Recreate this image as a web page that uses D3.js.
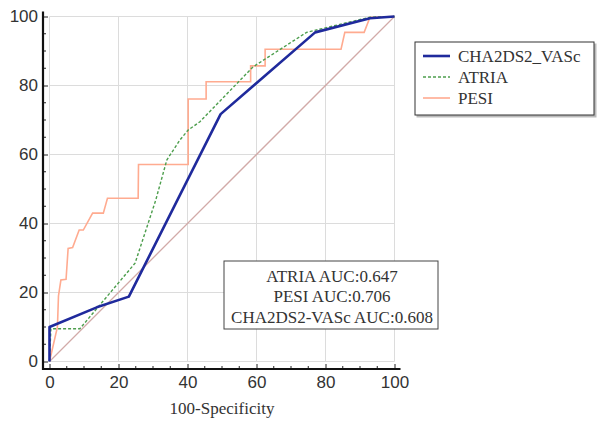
<!DOCTYPE html>
<html>
<head>
<meta charset="utf-8">
<script src="https://cdn.jsdelivr.net/npm/d3@7"></script>
<style>
  body { margin: 0; background: #fff; }
  svg { display: block; font-family: 'Liberation Serif', 'Times New Roman', serif; }
  .grid line { stroke: #dcdcdc; stroke-width: 1; }
  .axis text { font-size: 17px; fill: #333; }
  .axis line { stroke: #222; }
</style>
</head>
<body>
<div id="chart"></div>
<script>
// ROC curves, values (percent)
const chaX = [0, 0, 13.7, 23, 49.6, 77, 92.9, 100];
const chaY = [0, 10, 15.7, 18.8, 71.7, 95.4, 99.5, 100];

const atriaX = [0, 0.4, 8.8, 24.8, 30.8, 34, 37.8, 40.2, 43.6, 59, 74.5, 92.9, 100];
const atriaY = [0, 9.5, 9.5, 28.5, 46.8, 58.4, 64.2, 67.1, 69.5, 85.4, 95.4, 99.8, 100];

const pesiX = [0, 2.3, 2.6, 3.3, 4.8, 5.4, 6.7, 8.6, 9.8, 12.5, 15.6, 16.8, 25.7, 25.8, 40.2, 40.2,
  45.4, 45.4, 58.3, 58.3, 62.5, 62.5, 84.5, 85.6, 91.2, 92.9, 100];
const pesiY = [0, 10, 19, 23.6, 23.8, 32.8, 33, 38.1, 38.1, 43, 43, 47.3, 47.3, 57.1, 57.1, 76.1,
  76.1, 81.1, 81.1, 85.7, 85.7, 90.5, 90.5, 95.4, 95.4, 99.8, 100];

const refX = [0, 100];
const refY = [0, 100];

const seriesNames = ['CHA2DS2_VASc', 'ATRIA', 'PESI'];
const aucLabels = ['ATRIA AUC:0.647', 'PESI AUC:0.706', 'CHA2DS2-VASc AUC:0.608'];
const majorTicks = [0, 20, 40, 60, 80, 100];
const minorTicks = d3.range(0, 101, 5).filter(d => d % 20 !== 0);

const width = 597;
const height = 422;

const x = d3.scaleLinear().domain([0, 100]).range([49.5, 394.5]);
const y = d3.scaleLinear().domain([0, 100]).range([361.5, 16.5]);

const zip = (xs, ys) => xs.map((v, i) => [v, ys[i]]);

const svg = d3.select('#chart').append('svg')
    .attr('width', width)
    .attr('height', height);

// grid
const grid = svg.append('g').attr('class', 'grid');
grid.selectAll('.gx')
    .data(majorTicks)
  .enter().append('line')
    .attr('x1', d => x(d)).attr('x2', d => x(d))
    .attr('y1', y(100)).attr('y2', y(0));
grid.selectAll('.gy')
    .data(majorTicks)
  .enter().append('line')
    .attr('y1', d => y(d)).attr('y2', d => y(d))
    .attr('x1', x(0)).attr('x2', x(100));

// axes sit a few px outside the plot area
const leftX = 43;
const bottomY = 369;

const yAxis = svg.append('g')
    .attr('class', 'axis')
    .attr('transform', `translate(${leftX},0)`)
    .call(d3.axisLeft(y).tickValues(majorTicks).tickSize(-5).tickPadding(5));
yAxis.select('.domain').remove();
yAxis.selectAll('.minor')
    .data(minorTicks)
  .enter().append('line')
    .attr('x2', 3)
    .attr('y1', d => y(d)).attr('y2', d => y(d));

const xAxis = svg.append('g')
    .attr('class', 'axis')
    .attr('transform', `translate(0,${bottomY})`)
    .call(d3.axisBottom(x).tickValues(majorTicks).tickSize(-5).tickPadding(7));
xAxis.select('.domain').remove();
xAxis.selectAll('.minor')
    .data(minorTicks)
  .enter().append('line')
    .attr('y2', -3)
    .attr('x1', d => x(d)).attr('x2', d => x(d));

svg.append('line')
    .attr('x1', leftX).attr('x2', leftX)
    .attr('y1', y(100) - 5).attr('y2', bottomY + 1)
    .attr('stroke', '#111').attr('stroke-width', 2.2);
svg.append('line')
    .attr('x1', leftX - 1).attr('x2', x(100) + 6)
    .attr('y1', bottomY).attr('y2', bottomY)
    .attr('stroke', '#111').attr('stroke-width', 2.2);

svg.append('text')
    .attr('x', 222)
    .attr('y', 414)
    .attr('text-anchor', 'middle')
    .attr('font-size', 17)
    .attr('fill', '#333')
    .text('100-Specificity');

// curves
const line = d3.line().x(d => x(d[0])).y(d => y(d[1]));

svg.append('path')
    .datum(zip(refX, refY))
    .attr('d', line)
    .attr('fill', 'none')
    .attr('stroke', '#d2aaa8')
    .attr('stroke-width', 1.3);

svg.append('path')
    .datum(zip(pesiX, pesiY))
    .attr('d', line)
    .attr('fill', 'none')
    .attr('stroke', '#ffab90')
    .attr('stroke-width', 1.6);

svg.append('path')
    .datum(zip(atriaX, atriaY))
    .attr('d', line)
    .attr('fill', 'none')
    .attr('stroke', '#4d9e4d')
    .attr('stroke-width', 1.4)
    .attr('stroke-dasharray', '3,2');

svg.append('path')
    .datum(zip(chaX, chaY))
    .attr('d', line)
    .attr('fill', 'none')
    .attr('stroke', '#1f2a9c')
    .attr('stroke-width', 2.6)
    .attr('stroke-linejoin', 'round');

// legend
const legendStyles = [
  {stroke: '#1f2a9c', width: 2.6, dash: null},
  {stroke: '#4d9e4d', width: 1.4, dash: '3,2'},
  {stroke: '#ffab90', width: 1.6, dash: null}
];

const legend = svg.append('g').attr('transform', 'translate(415,42)');
legend.append('rect')
    .attr('x', 1.5).attr('y', 1.5)
    .attr('width', 180).attr('height', 74)
    .attr('fill', '#bbb');
legend.append('rect')
    .attr('width', 179).attr('height', 73)
    .attr('fill', '#fff')
    .attr('stroke', '#333');

const item = legend.selectAll('.item')
    .data(seriesNames)
  .enter().append('g')
    .attr('transform', (d, i) => `translate(0,${14 + i * 21})`);
item.append('line')
    .attr('x1', 8).attr('x2', 35)
    .attr('stroke', (d, i) => legendStyles[i].stroke)
    .attr('stroke-width', (d, i) => legendStyles[i].width)
    .attr('stroke-dasharray', (d, i) => legendStyles[i].dash);
item.append('text')
    .attr('x', 43)
    .attr('dy', '0.35em')
    .attr('font-size', 17)
    .attr('fill', '#333')
    .text(d => d);

// AUC box
const box = svg.append('g').attr('transform', 'translate(224,261)');
box.append('rect')
    .attr('width', 214).attr('height', 68)
    .attr('fill', '#fff')
    .attr('stroke', '#444');
box.selectAll('text')
    .data(aucLabels)
  .enter().append('text')
    .attr('x', 108)
    .attr('y', (d, i) => 20.5 + i * 20.5)
    .attr('text-anchor', 'middle')
    .attr('font-size', 17)
    .attr('fill', '#333')
    .text(d => d);
</script>
</body>
</html>
